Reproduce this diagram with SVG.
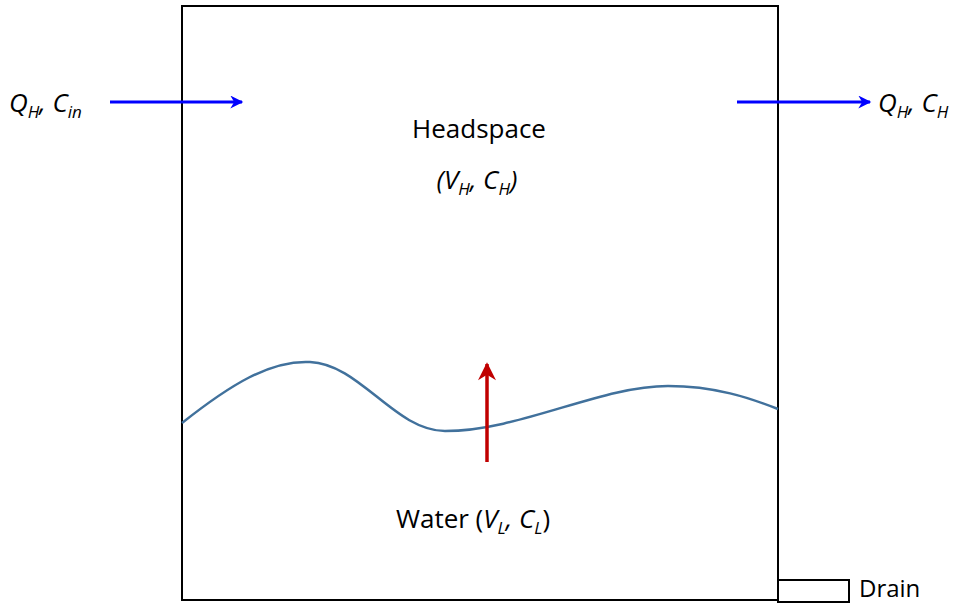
<svg xmlns="http://www.w3.org/2000/svg" width="960" height="605" viewBox="0 0 960 605">
<style>
text{font-family:"Open Sans","Liberation Sans",sans-serif;font-size:26px;fill:#000}
.i{font-style:italic}
.s{font-size:17px}
.blue{stroke:#0000ff;stroke-width:3;fill:none}
.red{stroke:#c00000;stroke-width:3.5;fill:none}
</style>
<defs>
<marker id="ab" viewBox="0 0 10 10" refX="9" refY="5" markerWidth="16" markerHeight="13" markerUnits="userSpaceOnUse" orient="auto"><path d="M0,0 L10,5 L0,10 L3,5 Z" fill="#0000ff"/></marker>
<marker id="ar" viewBox="0 0 10 10" refX="9" refY="5" markerWidth="20" markerHeight="18" markerUnits="userSpaceOnUse" orient="auto"><path d="M0,0 L10,5 L0,10 L3,5 Z" fill="#c00000"/></marker>
</defs>
<g id="tank">
<rect x="182" y="6" width="596" height="594" fill="none" stroke="#000" stroke-width="2"/>
</g>
<g id="drain">
<rect x="778" y="580" width="71" height="22" fill="none" stroke="#000" stroke-width="2"/>
<text x="859" y="597" style="font-size:24px">Drain</text>
</g>
<g id="water-surface">
<path d="M182,423 C230,385 270,360 310,362 C360,364 395,431 445,431 C520,431 600,386 668,386 C715,386 750,398 778,409" fill="none" stroke="#41719c" stroke-width="2.5"/>
</g>
<g id="headspace">
<text x="479" y="138" text-anchor="middle">Headspace</text>
<text x="477" y="189" text-anchor="middle" class="i">(V<tspan class="s" dy="6">H</tspan><tspan dy="-6">, C</tspan><tspan class="s" dy="6">H</tspan><tspan dy="-6">)</tspan></text>
</g>
<g id="water">
<text x="473" y="528" text-anchor="middle">Water (<tspan class="i">V</tspan><tspan class="i s" dy="6">L</tspan><tspan class="i" dy="-6">, C</tspan><tspan class="i s" dy="6">L</tspan><tspan dy="-6">)</tspan></text>
</g>
<g id="inlet-label">
<text x="9" y="112" class="i">Q<tspan class="s" dy="6">H</tspan><tspan dy="-6">, C</tspan><tspan class="s" dy="6">in</tspan></text>
</g>
<g id="outlet-label">
<text x="878" y="112" class="i">Q<tspan class="s" dy="6">H</tspan><tspan dy="-6">, C</tspan><tspan class="s" dy="6">H</tspan></text>
</g>
<g id="connectors">
<line x1="110" y1="102" x2="242" y2="102" class="blue" marker-end="url(#ab)"/>
<line x1="737" y1="102" x2="870" y2="102" class="blue" marker-end="url(#ab)"/>
<line x1="487" y1="462" x2="487" y2="364" class="red" marker-end="url(#ar)"/>
</g>
</svg>
